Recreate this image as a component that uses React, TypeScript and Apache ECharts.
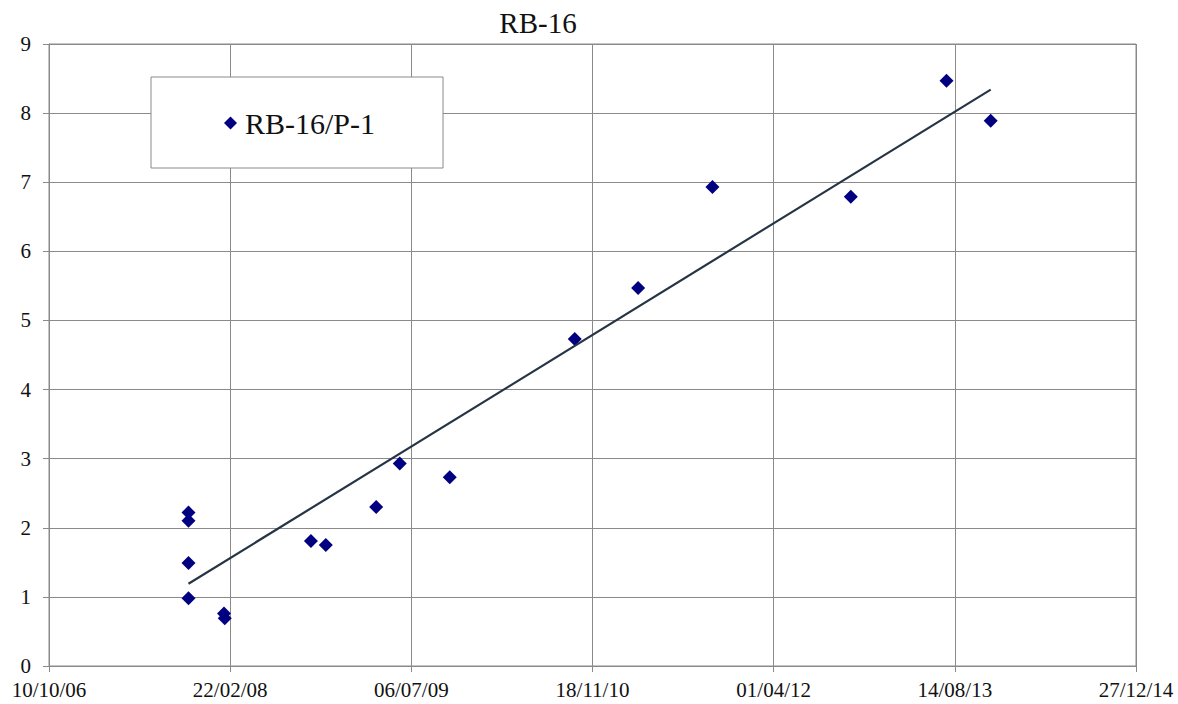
import React, { useEffect, useRef } from "react";
import * as echarts from "echarts";

const chartTitle = "RB-16";
const seriesName = "RB-16/P-1";

const sampleDates = [
  "2007-10-30", "2007-10-30", "2007-10-30", "2007-10-30",
  "2008-02-05", "2008-02-07",
  "2008-10-02", "2008-11-12",
  "2009-03-31", "2009-06-04", "2009-10-20",
  "2010-09-30", "2011-03-24", "2011-10-15",
  "2012-10-31", "2013-07-22", "2013-11-21",
];
const sampleValues = [
  0.98, 1.49, 2.1, 2.22,
  0.76, 0.69,
  1.81, 1.75,
  2.3, 2.93, 2.73,
  4.73, 5.47, 6.93,
  6.79, 8.47, 7.89,
];

// linear trendline as drawn in the reference (start / end)
const trendDates = ["2007-10-30", "2013-11-21"];
const trendValues = [1.19, 8.34];

const xMin = 39000; // 10/10/06 as day serial
const xMax = 42000; // 27/12/14
const xStep = 500;
const yMin = 0;
const yMax = 9;
const yStep = 1;

const EPOCH = Date.UTC(1899, 11, 30);
const DAY = 86400000;
const toSerial = (iso: string) => {
  const [y, m, d] = iso.split("-").map(Number);
  return Math.round((Date.UTC(y, m - 1, d) - EPOCH) / DAY);
};
const fmt = (serial: number) => {
  const dt = new Date(EPOCH + serial * DAY);
  const p = (n: number) => String(n).padStart(2, "0");
  return `${p(dt.getUTCDate())}/${p(dt.getUTCMonth() + 1)}/${p(dt.getUTCFullYear() % 100)}`;
};

export default function App() {
  const ref = useRef<HTMLDivElement>(null);
  useEffect(() => {
    if (!ref.current) return;
    const chart = echarts.init(ref.current, null, { renderer: "svg" });
    const pts = sampleDates.map((d, i) => [toSerial(d), sampleValues[i]]);
    const trend = trendDates.map((d, i) => [toSerial(d), trendValues[i]]);
    const font = "'Liberation Serif', 'Times New Roman', serif";
    chart.setOption({
      animation: false,
      backgroundColor: "#ffffff",
      textStyle: { fontFamily: font },
      graphic: [
        {
          type: "text",
          x: 538,
          y: 23,
          style: {
            text: chartTitle,
            font: `29px ${font}`,
            fill: "#111",
            textAlign: "center",
            textVerticalAlign: "middle",
          },
        },
      ],
      legend: {
        data: [seriesName],
        left: 151,
        top: 77,
        orient: "vertical",
        padding: [31, 68, 30, 73],
        backgroundColor: "#ffffff",
        borderColor: "#8a8a8a",
        borderWidth: 1,
        borderRadius: 0,
        itemWidth: 13,
        itemHeight: 13,
        icon: "diamond",
        itemStyle: { opacity: 1 },
        textStyle: { fontFamily: font, fontSize: 30, color: "#111", padding: [0, 0, 0, 3] },
        z: 10,
      },
      grid: {
        left: 49,
        right: 42,
        top: 44,
        bottom: 38,
        show: true,
        borderColor: "#8a8a8a",
        borderWidth: 1,
        backgroundColor: "transparent",
      },
      xAxis: {
        type: "value",
        min: xMin,
        max: xMax,
        interval: xStep,
        axisLine: { show: true, lineStyle: { color: "#8a8a8a", width: 1 } },
        axisTick: { show: true, length: 6, lineStyle: { color: "#8a8a8a" } },
        splitLine: { show: true, lineStyle: { color: "#8a8a8a", width: 1 } },
        axisLabel: {
          formatter: (v: number) => fmt(v),
          fontFamily: font,
          fontSize: 21,
          color: "#111",
          margin: 13,
          showMinLabel: true,
          showMaxLabel: true,
        },
      },
      yAxis: {
        type: "value",
        min: yMin,
        max: yMax,
        interval: yStep,
        axisLine: { show: true, lineStyle: { color: "#8a8a8a", width: 1 } },
        axisTick: { show: true, length: 6, lineStyle: { color: "#8a8a8a" } },
        splitLine: { show: true, lineStyle: { color: "#8a8a8a", width: 1 } },
        axisLabel: {
          fontFamily: font,
          fontSize: 21,
          color: "#111",
          margin: 18,
        },
      },
      series: [
        {
          name: seriesName,
          type: "scatter",
          data: pts,
          symbol: "diamond",
          symbolSize: 14,
          itemStyle: { color: "#000080", opacity: 1 },
          z: 3,
        },
        {
          name: "trend",
          type: "line",
          data: trend,
          symbol: "none",
          lineStyle: { color: "#253545", width: 2.2 },
          z: 4,
        },
      ],
    });
    return () => chart.dispose();
  }, []);
  return (
    <div
      ref={ref}
      style={{ position: "fixed", left: 0, top: 0, width: 1178, height: 704 }}
    />
  );
}
